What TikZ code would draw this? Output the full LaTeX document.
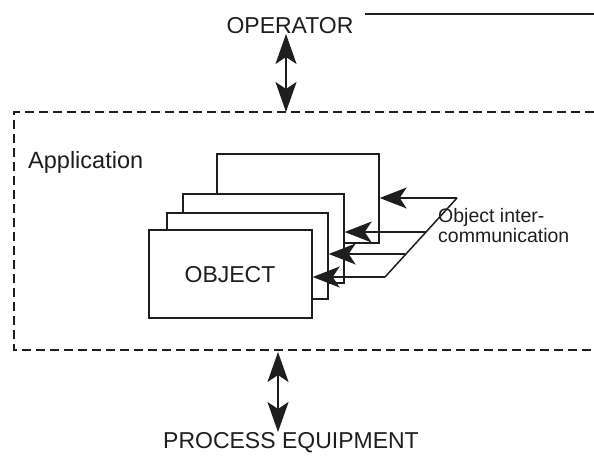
\documentclass[tikz,border=0pt]{standalone}
\usepackage{fontspec}
\setmainfont{Liberation Sans}
\usetikzlibrary{arrows.meta}
\definecolor{ink}{HTML}{1E1E1E}
\tikzset{
  msgtip/.tip={Stealth[length=27pt, width=21pt, inset=7pt]},
  iotip/.tip={Stealth[length=30pt, width=21pt, inset=7pt]},
  objbox/.style={draw=ink, line width=1.7pt, fill=white, anchor=north west, inner sep=0pt},
  boundary/.style={draw=ink, line width=2.2pt, dash pattern=on 9pt off 5pt},
  msg/.style={draw=ink, line width=1.5pt, -msgtip},
  link/.style={draw=ink, line width=1.5pt},
  io/.style={draw=ink, line width=2.2pt, iotip-iotip},
  label/.style={inner sep=0pt, text=ink}
}
\begin{document}
\begin{tikzpicture}[x=1pt, y=-1pt]
\useasboundingbox (0,0) rectangle (594,455);

% rule at the top of the page
\draw[ink, line width=2pt] (365,14) -- (594,14);

% external parties
\node[label, anchor=base, font=\fontsize{23}{27}\selectfont] (op) at (290,33) {OPERATOR};
\node[label, anchor=base, font=\fontsize{23}{27}\selectfont] (pe) at (291,448) {PROCESS EQUIPMENT};

% application boundary, open to the right
\draw[boundary] (594,112) -- (14,112) -- (14,350) -- (594,350);
\coordinate (optip) at (286,34);
\coordinate (apptop) at (286,112);
\coordinate (appbot) at (278,352);
\coordinate (petip) at (278,432);
\node[label, anchor=base west, font=\fontsize{23.5}{27}\selectfont] (app) at (28,168) {Application};

% interfaces to the outside
\draw[io] (optip) -- (apptop);
\draw[io] (appbot) -- (petip);

% stack of objects, back to front
\node[objbox, minimum width=162pt, minimum height=89pt] (o4) at (216,153) {};
\node[objbox, minimum width=161pt, minimum height=89pt] (o3) at (182,193) {};
\node[objbox, minimum width=161pt, minimum height=86pt] (o2) at (166,212) {};
\node[objbox, minimum width=163pt, minimum height=88pt] (o1) at (148,229) {};
\node[label, anchor=base, font=\fontsize{23}{27}\selectfont] (objtxt) at (230,282) {OBJECT};

% object intercommunication channel
\coordinate (m4) at (457,198);
\coordinate (m3) at (426,232);
\coordinate (m2) at (405,254);
\coordinate (m1) at (385,277);
\draw[link] (m4) -- (m1);
\draw[msg] (m4) -- (m4 -| o4.east);
\draw[msg] (m3) -- (m3 -| o3.east);
\draw[msg] (m2) -- (m2 -| o2.east);
\draw[msg] (m1) -- (m1 -| o1.east);
\node[label, anchor=base west, align=left, font=\fontsize{19.5}{20}\selectfont] (ic) at (438,242) {Object inter-\\communication};
\end{tikzpicture}
\end{document}
